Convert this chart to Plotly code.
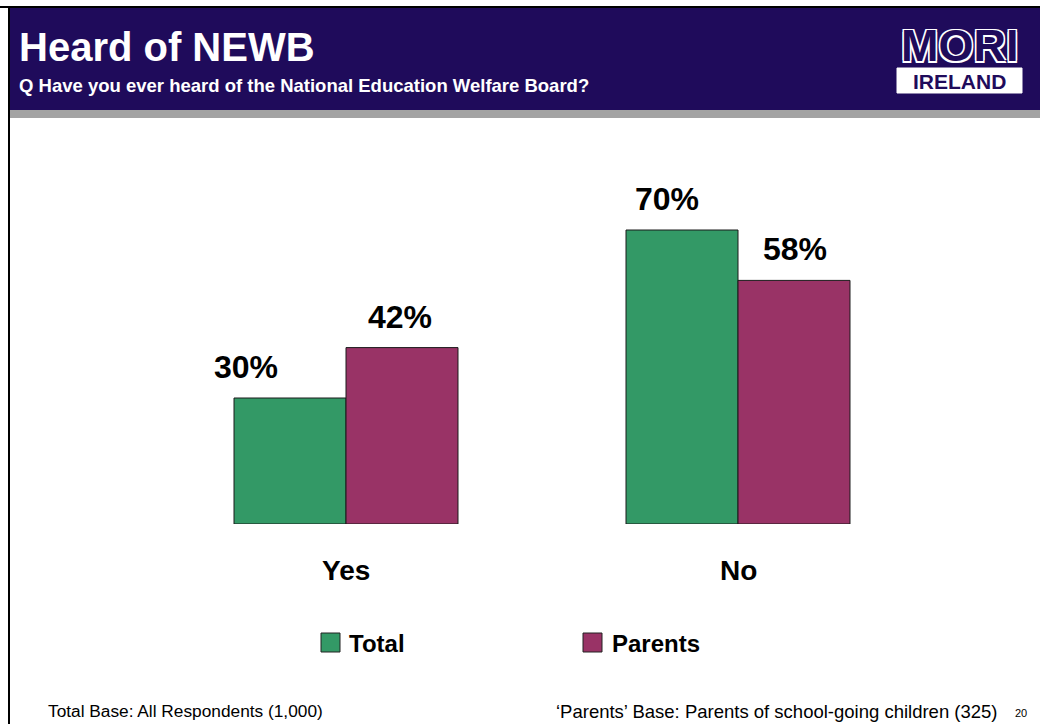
import plotly.graph_objects as go

categories = ["Yes", "No"]
total_values = [30, 70]
parents_values = [42, 58]
series_names = ["Total", "Parents"]
series_colors = ["#339966", "#993366"]

# label nudges (style only, px)
label_nudge = [[-44, -15], [-2, 1]]

NAVY = "#1f0b5b"
FONT = "Liberation Sans, Arial, sans-serif"

fig = go.Figure()
for name, vals, col in zip(series_names, [total_values, parents_values], series_colors):
    fig.add_trace(go.Bar(
        x=categories, y=vals, name=name,
        marker=dict(color=col, line=dict(color="#1a1a1a", width=1)),
        cliponaxis=False, showlegend=False,
    ))

W, H = 1040, 724
pl, pr, pt, pb = 150, 106, 188, 200
pw, ph = W - pl - pr, H - pt - pb

fig.update_layout(
    width=W, height=H,
    margin=dict(l=pl, r=pr, t=pt, b=pb),
    paper_bgcolor="white", plot_bgcolor="white",
    barmode="group", bargap=0.4286, bargroupgap=0,
    xaxis=dict(range=[-0.5, 1.5], showgrid=False, zeroline=False, showline=False,
               ticks="", showticklabels=False),
    yaxis=dict(range=[0, 80], visible=False),
    font=dict(family=FONT),
)

# value labels above bars
bar_w_px = pw / 2 * (1 - 0.4286) / 2
for si, vals in enumerate([total_values, parents_values]):
    off = (si - 0.5) * bar_w_px
    for ci, (c, v) in enumerate(zip(categories, vals)):
        fig.add_annotation(x=c, y=v, xref="x", yref="y", xshift=off + label_nudge[si][ci], yshift=11,
                           yanchor="bottom", text=f"<b>{v}%</b>", showarrow=False,
                           font=dict(size=32, color="#000000", family=FONT))

# category labels
for c in categories:
    fig.add_annotation(x=c, y=0, yref="y", xref="x", yshift=-46, text=f"<b>{c}</b>",
                       showarrow=False, font=dict(size=28, color="#000000", family=FONT))


def px(x):
    return (x - pl) / pw


def py(y):
    return (H - pb - y) / ph


fig.add_shape(type="rect", xref="paper", yref="paper", x0=px(9), x1=px(1040), y0=py(110), y1=py(8),
              fillcolor=NAVY, line=dict(width=0), layer="below")
fig.add_shape(type="rect", xref="paper", yref="paper", x0=px(9), x1=px(1040), y0=py(118), y1=py(110),
              fillcolor="#a3a3a3", line=dict(width=0), layer="below")
fig.add_shape(type="line", xref="paper", yref="paper", x0=px(0), x1=px(1040), y0=py(7), y1=py(7),
              line=dict(color="#000000", width=2))
fig.add_shape(type="line", xref="paper", yref="paper", x0=px(9), x1=px(9), y0=py(7), y1=py(724),
              line=dict(color="#000000", width=2))

# title
fig.add_annotation(xref="paper", yref="paper", x=px(17), y=py(47), xanchor="left", yanchor="middle",
                   text="<b>Heard of NEWB</b>", showarrow=False,
                   font=dict(size=40, color="white", family=FONT))
fig.add_annotation(xref="paper", yref="paper", x=px(17), y=py(85), xanchor="left", yanchor="middle",
                   text="<b>Q Have you ever heard of the National Education Welfare Board?</b>", showarrow=False,
                   font=dict(size=18.5, color="white", family=FONT))

# logo
fig.add_annotation(xref="paper", yref="paper", x=px(960), y=py(46), xanchor="center", yanchor="middle",
                   text="<b>MORI</b>", showarrow=False,
                   font=dict(size=45, color=NAVY, family=FONT,
                             shadow="1.5px 1.5px 0 #ffffff, -1.5px -1.5px 0 #ffffff, 1.5px -1.5px 0 #ffffff, -1.5px 1.5px 0 #ffffff"))
fig.add_shape(type="rect", xref="paper", yref="paper", x0=px(897), x1=px(1022), y0=py(93), y1=py(68),
              fillcolor="white", line=dict(color="white", width=1))
fig.add_annotation(xref="paper", yref="paper", x=px(959.5), y=py(81), xanchor="center", yanchor="middle",
                   text="<b>IRELAND</b>", showarrow=False,
                   font=dict(size=21, color=NAVY, family=FONT))

# legend (manual)
legend_pos = [(321, 347), (583, 610)]
for (sx, tx), name, col in zip(legend_pos, series_names, series_colors):
    fig.add_shape(type="rect", xref="paper", yref="paper", x0=px(sx), x1=px(sx + 19), y0=py(652), y1=py(633),
                  fillcolor=col, line=dict(color="#222222", width=1))
    fig.add_annotation(xref="paper", yref="paper", x=px(tx), y=py(643), xanchor="left", yanchor="middle",
                       text=f"<b>{name}</b>", showarrow=False,
                       font=dict(size=24, color="#000000", family=FONT))

# footer
fig.add_annotation(xref="paper", yref="paper", x=px(46), y=py(711), xanchor="left", yanchor="middle",
                   text="Total Base: All Respondents (1,000)", showarrow=False,
                   font=dict(size=17.3, color="#000000", family=FONT))
fig.add_annotation(xref="paper", yref="paper", x=px(554), y=py(711), xanchor="left", yanchor="middle",
                   text="‘Parents’ Base: Parents of school-going children (325)", showarrow=False,
                   font=dict(size=18.5, color="#000000", family=FONT))
fig.add_annotation(xref="paper", yref="paper", x=px(1013), y=py(713), xanchor="left", yanchor="middle",
                   text="20", showarrow=False,
                   font=dict(size=11, color="#000000", family=FONT))

fig.write_html("out.html")
